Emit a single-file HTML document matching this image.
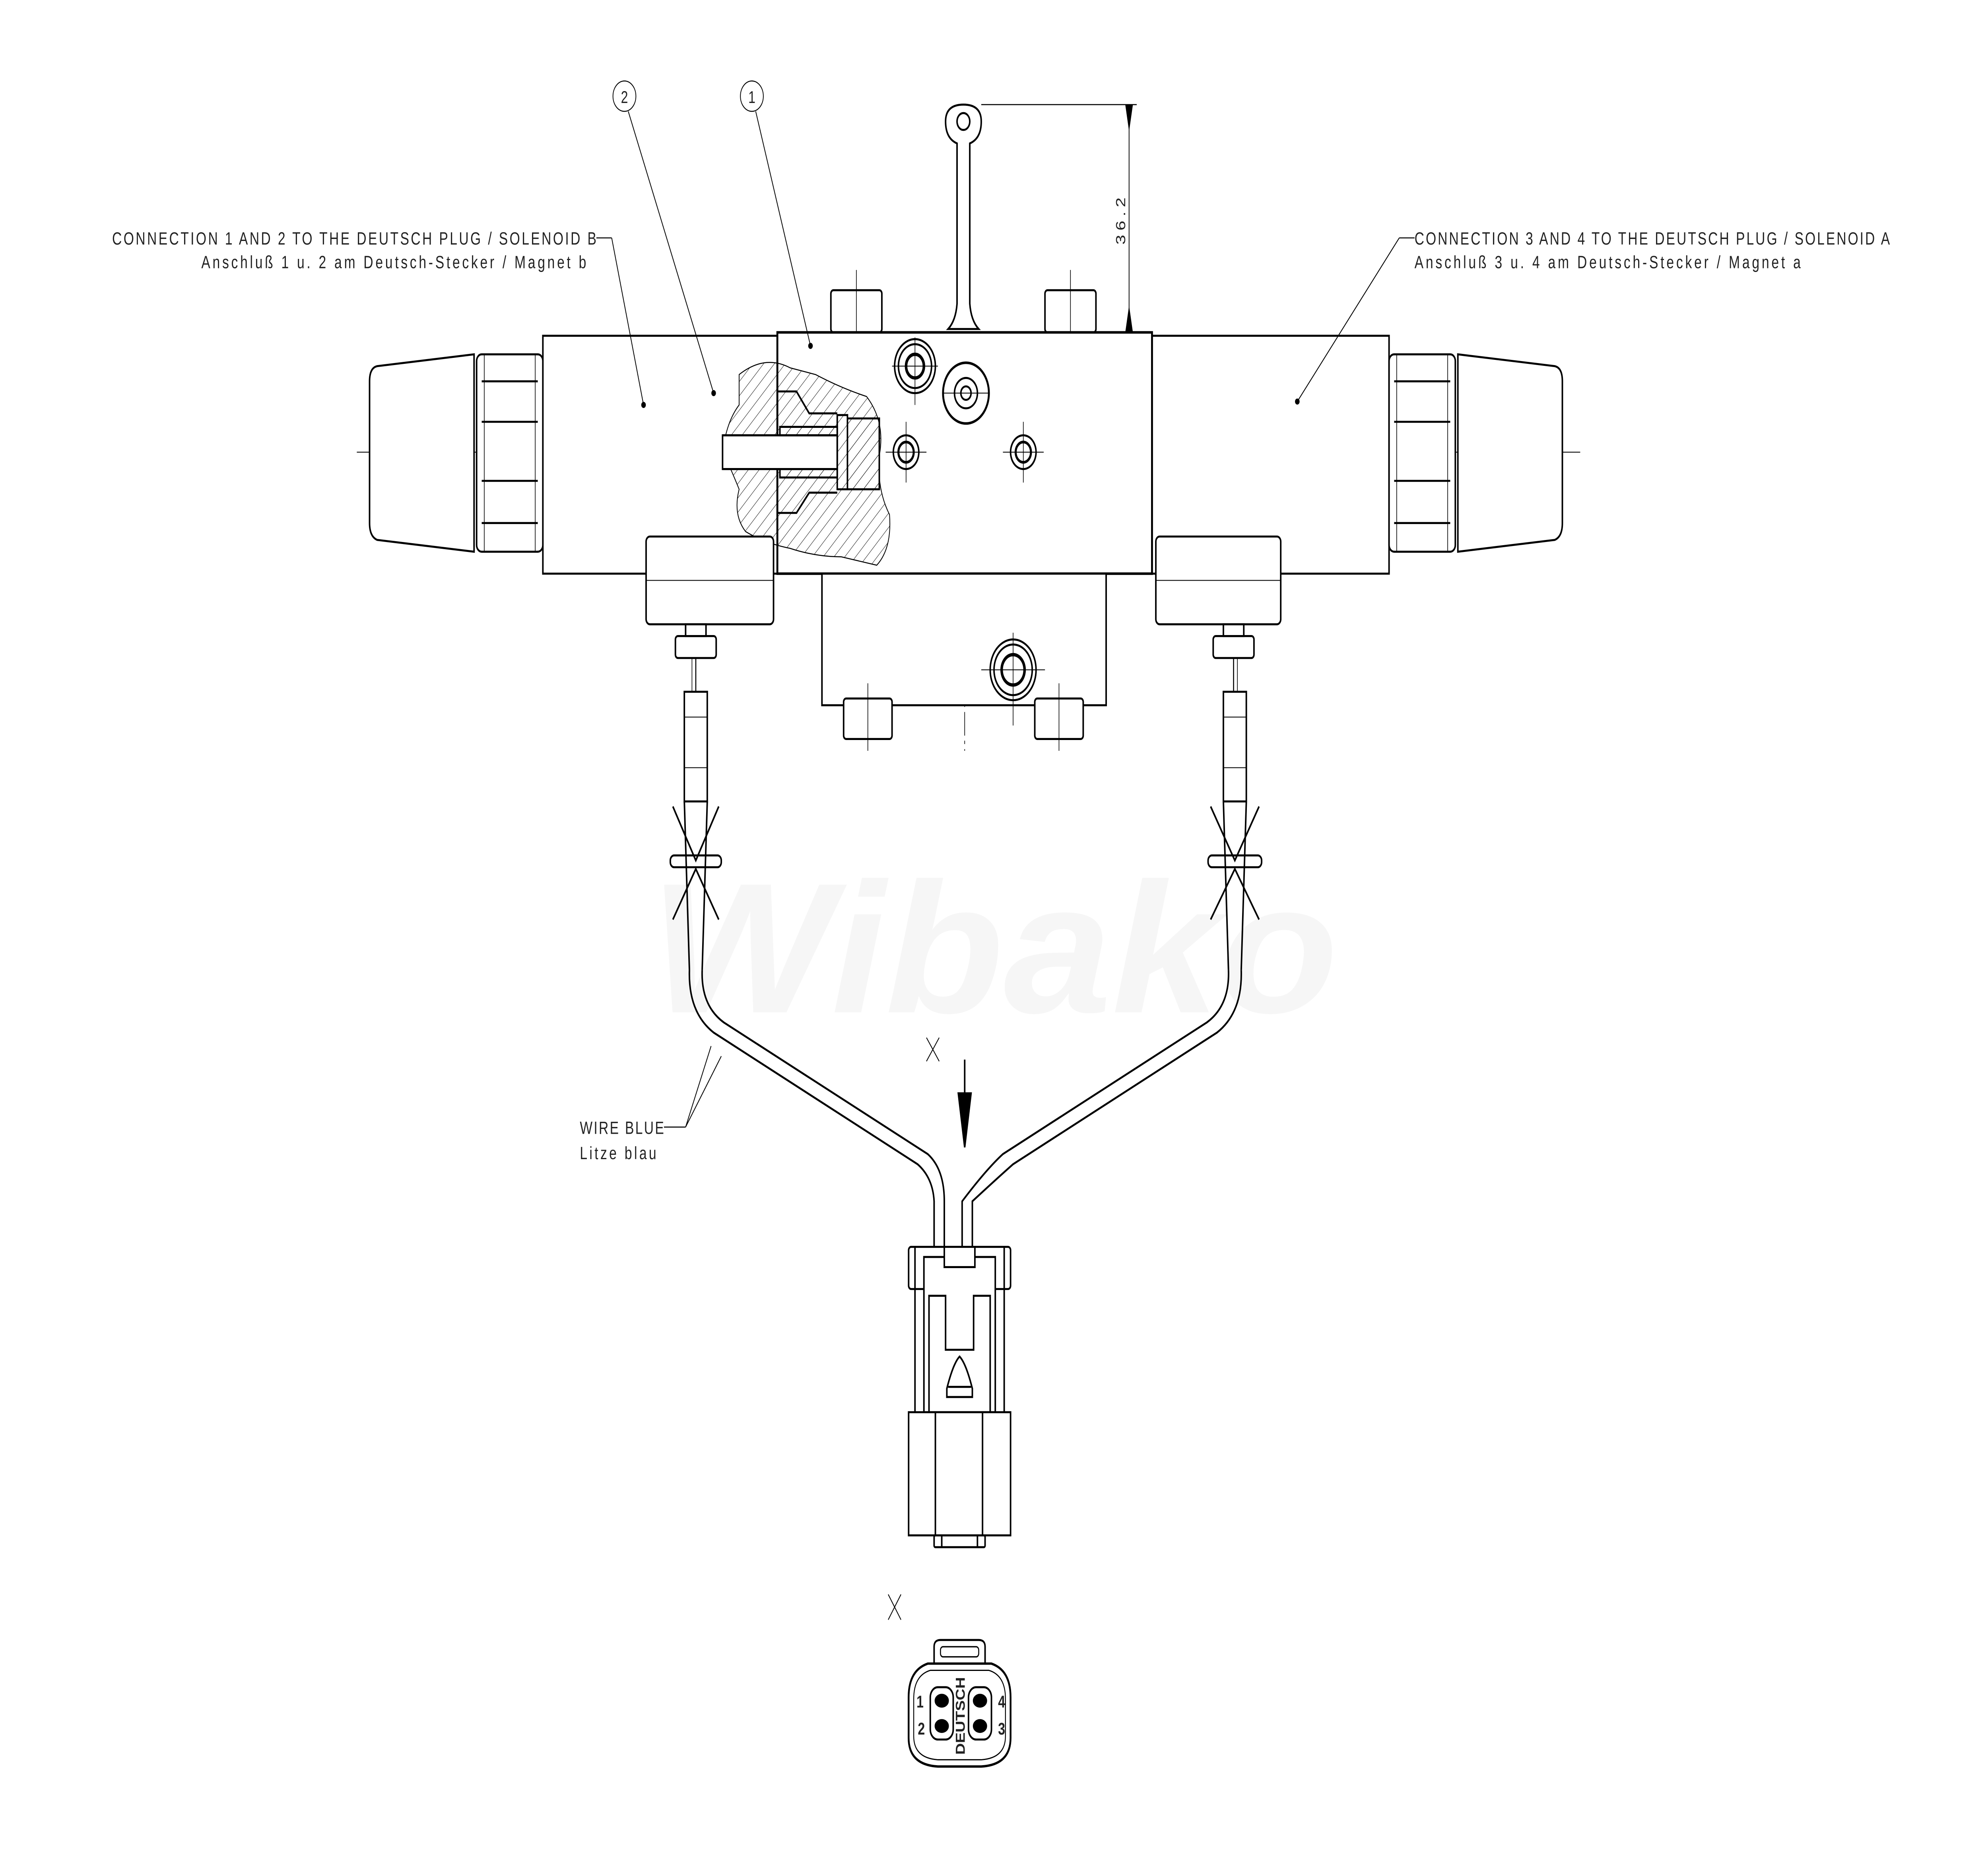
<!DOCTYPE html>
<html><head><meta charset="utf-8"><style>
html,body{margin:0;padding:0;background:#fff;overflow:hidden;width:100%;height:100%}
svg{display:block;position:fixed;left:0;top:0;width:100vw;height:100vh}
text{font-family:"Liberation Sans",sans-serif;fill:#222}
</style></head><body>
<svg viewBox="0 0 1560 1103" preserveAspectRatio="none" xmlns="http://www.w3.org/2000/svg">
<defs>
<pattern id="h" width="6" height="6" patternUnits="userSpaceOnUse" patternTransform="rotate(45)"><line x1="0" y1="0" x2="0" y2="6" stroke="#000" stroke-width="0.5"/></pattern>
</defs>
<rect width="1560" height="1103" fill="#fff"/>
<text x="510" y="600" font-size="110" font-style="italic" font-weight="bold" style="fill:#f6f6f6" textLength="540" lengthAdjust="spacingAndGlyphs">Wibako</text>

<g fill="none" stroke="#000" stroke-width="1.2">
<line x1="280" y1="268" x2="1240" y2="268" stroke-width="0.5" stroke-dasharray="14,3,2,3"/>
<line x1="757" y1="180" x2="757" y2="445" stroke-width="0.5" stroke-dasharray="14,3,2,3"/>

<path d="M296 217 L372 210 L372 327 L296 320 Q290 318 290 310 L290 226 Q290 218 296 217Z" fill="#fff"/>
<rect x="374" y="210" width="52" height="117" rx="4" fill="#fff"/>
<line x1="378" y1="226" x2="422" y2="226"/><line x1="378" y1="250" x2="422" y2="250"/><line x1="378" y1="285" x2="422" y2="285"/><line x1="378" y1="310" x2="422" y2="310"/>
<line x1="380" y1="210" x2="380" y2="327" stroke-width="0.5"/><line x1="420" y1="210" x2="420" y2="327" stroke-width="0.5"/>
<rect x="426" y="199" width="185" height="141" fill="#fff"/>
<rect x="904" y="199" width="186" height="141" fill="#fff"/>
<rect x="1090" y="210" width="52" height="117" rx="4" fill="#fff"/>
<line x1="1094" y1="226" x2="1138" y2="226"/><line x1="1094" y1="250" x2="1138" y2="250"/><line x1="1094" y1="285" x2="1138" y2="285"/><line x1="1094" y1="310" x2="1138" y2="310"/>
<line x1="1096" y1="210" x2="1096" y2="327" stroke-width="0.5"/><line x1="1136" y1="210" x2="1136" y2="327" stroke-width="0.5"/>
<path d="M1144 210 L1220 217 Q1226 218 1226 226 L1226 310 Q1226 318 1220 320 L1144 327Z" fill="#fff"/>

<rect x="652" y="172" width="40" height="25" rx="2" fill="#fff"/><line x1="672" y1="160" x2="672" y2="200" stroke-width="0.5"/>
<rect x="820" y="172" width="40" height="25" rx="2" fill="#fff"/><line x1="840" y1="160" x2="840" y2="200" stroke-width="0.5"/>
<path d="M742 72 Q742 62 756 62 Q770 62 770 72 Q770 82 761 85 L761 180 Q762 190 768 195 L744 195 Q750 190 751 180 L751 85 Q742 82 742 72Z" fill="#fff"/>
<circle cx="756" cy="72" r="5"/>

<rect x="610" y="197" width="294" height="143" fill="#fff" stroke-width="1.5"/>
<rect x="645" y="340" width="223" height="78" fill="#fff"/>
<rect x="662" y="414" width="38" height="24" rx="2" fill="#fff"/>
<rect x="812" y="414" width="38" height="24" rx="2" fill="#fff"/>
<line x1="681" y1="405" x2="681" y2="445" stroke-width="0.5"/><line x1="831" y1="405" x2="831" y2="445" stroke-width="0.5"/>

<circle cx="718" cy="217" r="16"/><circle cx="718" cy="217" r="13"/><circle cx="718" cy="217" r="7" stroke-width="2"/>
<circle cx="758" cy="233" r="18" stroke-width="1.5" fill="#fff"/><circle cx="758" cy="233" r="9"/><circle cx="758" cy="233" r="4"/>
<circle cx="711" cy="268" r="10"/><circle cx="711" cy="268" r="6" stroke-width="1.6"/>
<circle cx="803" cy="268" r="10"/><circle cx="803" cy="268" r="6" stroke-width="1.6"/>
<circle cx="795" cy="397" r="18"/><circle cx="795" cy="397" r="15"/><circle cx="795" cy="397" r="9" stroke-width="2"/>
<g stroke-width="0.5">
<line x1="700" y1="217" x2="736" y2="217"/><line x1="718" y1="200" x2="718" y2="240"/>
<line x1="740" y1="233" x2="776" y2="233"/>
<line x1="695" y1="268" x2="727" y2="268"/><line x1="711" y1="250" x2="711" y2="286"/>
<line x1="787" y1="268" x2="819" y2="268"/><line x1="803" y1="250" x2="803" y2="286"/>
<line x1="770" y1="397" x2="820" y2="397"/><line x1="795" y1="375" x2="795" y2="430"/>
</g>

<path d="M580 222 Q600 210 620 218 L640 222 Q660 230 680 235 Q695 250 690 270 Q688 290 698 305 Q700 325 688 335 L660 330 Q640 330 620 325 Q600 322 585 315 Q575 305 580 290 Q572 275 567 268 Q570 250 580 240Z" fill="url(#h)" stroke-width="0.6"/>
<rect x="567" y="258" width="90" height="20" fill="#fff"/>
<line x1="567" y1="258" x2="657" y2="258"/><line x1="567" y1="278" x2="657" y2="278"/>
<rect x="612" y="253" width="45" height="5" fill="url(#h)"/><rect x="612" y="278" width="45" height="5" fill="url(#h)"/>
<rect x="657" y="246" width="8" height="44"/>
<path d="M665 248 L690 248 L690 290 L665 290" fill="url(#h)"/>
<path d="M610 232 L625 232 L635 245 L657 245 M610 304 L625 304 L635 292 L657 292"/>

<rect x="507" y="318" width="100" height="52" rx="3" fill="#fff"/>
<line x1="507" y1="344" x2="607" y2="344" stroke-width="0.5"/>
<rect x="538" y="370" width="16" height="7"/>
<rect x="530" y="377" width="32" height="13" rx="2"/>
<line x1="546" y1="390" x2="546" y2="410" stroke-width="0.8"/><line x1="543" y1="390" x2="543" y2="410" stroke-width="0.5"/>
<rect x="537" y="410" width="18" height="65"/>
<line x1="537" y1="425" x2="555" y2="425" stroke-width="0.5"/><line x1="537" y1="455" x2="555" y2="455" stroke-width="0.5"/>
<path d="M537 475 L541 575 M555 475 L551 575"/>
<path d="M528 478 L546 510 L564 478 M528 545 L546 515 L564 545"/>
<rect x="526" y="507" width="40" height="7" rx="3"/>
<rect x="907" y="318" width="98" height="52" rx="3" fill="#fff"/>
<line x1="907" y1="344" x2="1005" y2="344" stroke-width="0.5"/>
<rect x="960" y="370" width="16" height="7"/>
<rect x="952" y="377" width="32" height="13" rx="2"/>
<line x1="968" y1="390" x2="968" y2="410" stroke-width="0.8"/><line x1="971" y1="390" x2="971" y2="410" stroke-width="0.5"/>
<rect x="960" y="410" width="18" height="65"/>
<line x1="960" y1="425" x2="978" y2="425" stroke-width="0.5"/><line x1="960" y1="455" x2="978" y2="455" stroke-width="0.5"/>
<path d="M960 475 L964 575 M978 475 L974 575"/>
<path d="M950 478 L969 510 L988 478 M950 545 L969 515 L988 545"/>
<rect x="948" y="507" width="42" height="7" rx="3"/>

<path d="M541 575 Q540 600 560 612 L720 690 Q732 698 733 712 L733 740"/>
<path d="M551 575 Q550 596 568 606 L728 684 Q741 693 741 712 L741 740"/>
<path d="M974 575 Q975 600 955 612 L795 690 Q783 698 763 712 L763 740" />
<path d="M964 575 Q965 596 947 606 L787 684 Q774 693 755 712 L755 740"/>

<line x1="757" y1="628" x2="757" y2="655"/>
<path d="M752 648 L762 648 L757 680Z" fill="#000"/>

<rect x="713" y="739" width="80" height="25" rx="2" fill="#fff"/>
<line x1="718" y1="739" x2="718" y2="837"/><line x1="788" y1="739" x2="788" y2="837"/>
<rect x="725" y="745" width="56" height="92" fill="#fff"/>
<rect x="741" y="739" width="24" height="12" fill="#fff"/>
<path d="M729 837 L729 768 L742 768 L742 800 L764 800 L764 768 L777 768 L777 837"/>
<path d="M743 828 L743 823 Q748 808 753 804 Q758 808 763 823 L763 828Z"/>
<line x1="744" y1="822" x2="762" y2="822"/>
<rect x="713" y="837" width="80" height="73" fill="#fff"/>
<line x1="734" y1="837" x2="734" y2="910"/><line x1="771" y1="837" x2="771" y2="910"/>
<rect x="733" y="910" width="40" height="7" rx="1"/>
<line x1="739" y1="910" x2="739" y2="917"/><line x1="767" y1="910" x2="767" y2="917"/>

<path d="M733 986 L733 976 Q733 972 738 972 L768 972 Q773 972 773 976 L773 986"/>
<rect x="738" y="976" width="30" height="6" rx="2" stroke-width="0.8"/>
<path d="M728 986 L778 986 Q793 990 793 1006 L793 1030 Q793 1046 770 1047 L736 1047 Q713 1046 713 1030 L713 1006 Q713 990 728 986Z" stroke-width="1.4"/>
<path d="M730 990 L776 990 Q789 993 789 1007 L789 1029 Q789 1042 770 1043 L736 1043 Q717 1042 717 1029 L717 1007 Q717 993 730 990Z" stroke-width="0.7"/>
<rect x="730" y="1000" width="18" height="31" rx="6"/>
<rect x="760" y="1000" width="18" height="31" rx="6"/>
<ellipse cx="739" cy="1008" rx="5" ry="3.5" fill="#000"/><ellipse cx="739" cy="1023" rx="5" ry="3.5" fill="#000"/>
<ellipse cx="769" cy="1008" rx="5" ry="3.5" fill="#000"/><ellipse cx="769" cy="1023" rx="5" ry="3.5" fill="#000"/>

<circle cx="490" cy="57" r="9" stroke-width="0.6"/>
<circle cx="590" cy="57" r="9" stroke-width="0.6"/>
<line x1="493" y1="66" x2="560" y2="233" stroke-width="0.6"/>
<line x1="593" y1="66" x2="636" y2="205" stroke-width="0.6"/>
<line x1="468" y1="141" x2="480" y2="141" stroke-width="0.6"/>
<line x1="480" y1="141" x2="505" y2="240" stroke-width="0.6"/>
<line x1="1098" y1="141" x2="1110" y2="141" stroke-width="0.6"/>
<line x1="1098" y1="141" x2="1018" y2="238" stroke-width="0.6"/>
<line x1="521" y1="668" x2="538" y2="668" stroke-width="0.6"/>
<line x1="538" y1="668" x2="558" y2="620" stroke-width="0.6"/>
<line x1="538" y1="668" x2="566" y2="626" stroke-width="0.6"/>
<line x1="770" y1="62" x2="892" y2="62" stroke-width="0.6"/>
<line x1="886" y1="62" x2="886" y2="197" stroke-width="0.6"/>
<path d="M727 615 L737 629 M737 615 L727 629" stroke-width="0.6"/>
<path d="M697 945 L707 960 M707 945 L697 960" stroke-width="0.6"/>
</g>
<circle cx="505" cy="240" r="1.8" fill="#000"/>
<circle cx="560" cy="233" r="1.8" fill="#000"/>
<circle cx="636" cy="205" r="1.8" fill="#000"/>
<circle cx="1018" cy="238" r="1.8" fill="#000"/>
<path d="M883 62 L889 62 L886 78Z M883 197 L889 197 L886 181Z" fill="#000"/>

<text x="490" y="61" font-size="10" text-anchor="middle">2</text>
<text x="590" y="61" font-size="10" text-anchor="middle">1</text>
<text x="468" y="145" font-size="10.5" text-anchor="end" textLength="380" lengthAdjust="spacing">CONNECTION 1 AND 2 TO THE DEUTSCH PLUG / SOLENOID B</text>
<text x="460" y="159" font-size="10.5" text-anchor="end" textLength="302" lengthAdjust="spacing">Anschluß 1 u. 2 am Deutsch-Stecker / Magnet b</text>
<text x="1110" y="145" font-size="10.5" textLength="373" lengthAdjust="spacing">CONNECTION 3 AND 4 TO THE DEUTSCH PLUG / SOLENOID A</text>
<text x="1110" y="159" font-size="10.5" textLength="303" lengthAdjust="spacing">Anschluß 3 u. 4 am Deutsch-Stecker / Magnet a</text>
<text x="455" y="672" font-size="10.5" textLength="66" lengthAdjust="spacing">WIRE BLUE</text>
<text x="455" y="687" font-size="10.5" textLength="60" lengthAdjust="spacing">Litze blau</text>
<text transform="translate(883,145) rotate(-90)" font-size="10.5" textLength="28">36.2</text>
<text x="722" y="1012" font-size="10" font-weight="bold" text-anchor="middle">1</text>
<text x="723" y="1028" font-size="10" font-weight="bold" text-anchor="middle">2</text>
<text x="786" y="1012" font-size="10" font-weight="bold" text-anchor="middle">4</text>
<text x="786" y="1028" font-size="10" font-weight="bold" text-anchor="middle">3</text>
<text transform="translate(757,1040) rotate(-90)" font-size="10" font-weight="bold" textLength="46" lengthAdjust="spacingAndGlyphs">DEUTSCH</text>
</svg>
</body></html>
